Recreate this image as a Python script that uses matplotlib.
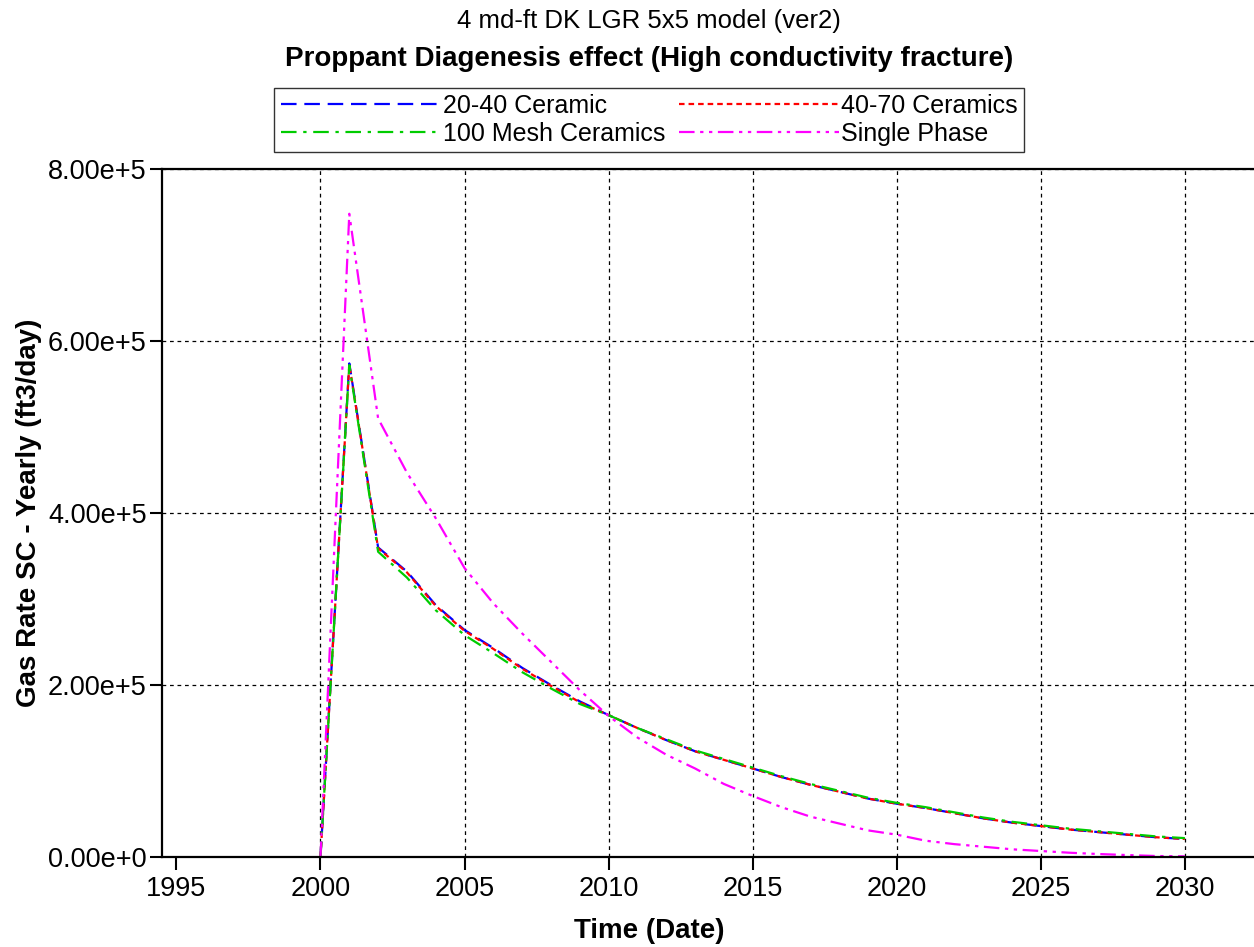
import numpy as np
import matplotlib
matplotlib.use('Agg')
import matplotlib.pyplot as plt
from matplotlib.ticker import FuncFormatter

plt.rcParams['font.family'] = ['Liberation Sans', 'DejaVu Sans']

years = np.arange(2000, 2031)

# gas rate (ft3/day)
ceramic_2040 = [0, 574e3, 360e3, 332e3, 293e3, 264e3, 243e3, 220e3, 200e3, 181e3,
                165e3, 150e3, 136e3, 123e3, 113e3, 103e3, 93e3, 84e3, 76e3, 68e3,
                62e3, 57e3, 51e3, 45e3, 40e3, 36e3, 32e3, 29e3, 26e3, 23e3, 21e3]
ceramic_4070 = [0, 573e3, 359e3, 331e3, 292e3, 263e3, 242e3, 219e3, 199e3, 180e3,
                165e3, 150e3, 136e3, 123e3, 113e3, 103e3, 93e3, 84e3, 76e3, 68e3,
                62e3, 57e3, 51e3, 45e3, 40e3, 36e3, 32e3, 29e3, 26e3, 23e3, 21e3]
mesh_100 = [0, 572e3, 355e3, 325e3, 287e3, 258e3, 237e3, 215e3, 196e3, 178e3,
            165e3, 150e3, 137e3, 124e3, 114e3, 104e3, 94e3, 85e3, 77e3, 69e3,
            63e3, 58e3, 52e3, 46e3, 41e3, 37e3, 33e3, 30e3, 27e3, 24e3, 22e3]
single_phase = [0, 748e3, 510e3, 447e3, 394e3, 336e3, 295e3, 260e3, 227e3, 194e3,
                164e3, 139e3, 119e3, 103e3, 85e3, 71e3, 58e3, 47e3, 39e3, 31e3,
                26e3, 19e3, 15e3, 12e3, 9e3, 7e3, 5e3, 3.5e3, 2.3e3, 1.2e3, 0.8e3]

fig = plt.figure(figsize=(12.54, 9.47), dpi=100)
ax = fig.add_axes([0.1292, 0.095, 0.8708, 0.7265])

l1, = ax.plot(years, ceramic_2040, color='#0000ff', lw=1.6, dashes=(7, 3.5), label='20-40 Ceramic')
l2, = ax.plot(years, ceramic_4070, color='#ff0000', lw=1.6, dashes=(2.5, 1.8), label='40-70 Ceramics')
l3, = ax.plot(years, mesh_100, color='#00cc00', lw=1.6, dashes=(7, 3, 1.5, 3), label='100 Mesh Ceramics')
l4, = ax.plot(years, single_phase, color='#ff00ff', lw=1.6, dashes=(7, 2.5, 1.5, 2.5, 1.5, 2.5), label='Single Phase')

ax.set_xlim(1994.5, 2032.4)
ax.set_ylim(0, 8e5)
ax.set_xticks([1995, 2000, 2005, 2010, 2015, 2020, 2025, 2030])
ax.set_yticks([0, 2e5, 4e5, 6e5, 8e5])
ax.yaxis.set_major_formatter(FuncFormatter(lambda v, p: '0.00e+0' if v == 0 else '%.2fe+5' % (v / 1e5)))
ax.tick_params(axis='both', direction='out', length=9, width=1.5, labelsize=19.5)
ax.tick_params(axis='x', pad=5)
ax.tick_params(axis='y', pad=2)

ax.grid(True, color='black', linestyle=(0, (3, 3)), linewidth=0.9)
ax.xaxis.get_gridlines()[0].set_visible(False)

ax.spines['right'].set_visible(False)
for s in ['left', 'bottom', 'top']:
    ax.spines[s].set_linewidth(1.6)

ax.set_xlabel('Time (Date)', fontsize=20, fontweight='bold')
ax.xaxis.set_label_coords(0.446, -0.088)
ax.set_ylabel('Gas Rate SC - Yearly (ft3/day)', fontsize=20, fontweight='bold', labelpad=4)

fig.text(0.5176, 0.978, '4 md-ft DK LGR 5x5 model (ver2)', ha='center', va='center', fontsize=18.5)
fig.text(0.5176, 0.938, 'Proppant Diagenesis effect (High conductivity fracture)', ha='center', va='center',
         fontsize=20, fontweight='bold')

leg = fig.legend(handles=[l1, l3, l2, l4], ncol=2, loc='center', bbox_to_anchor=(0.5175, 0.8733),
                 fontsize=18, handlelength=6.4, handletextpad=0.08, columnspacing=0.55,
                 frameon=True, fancybox=False, edgecolor='black', borderpad=0.25, labelspacing=0.15,
                 borderaxespad=0)
leg.get_frame().set_linewidth(1.0)

fig.savefig('out.png', dpi=100)
